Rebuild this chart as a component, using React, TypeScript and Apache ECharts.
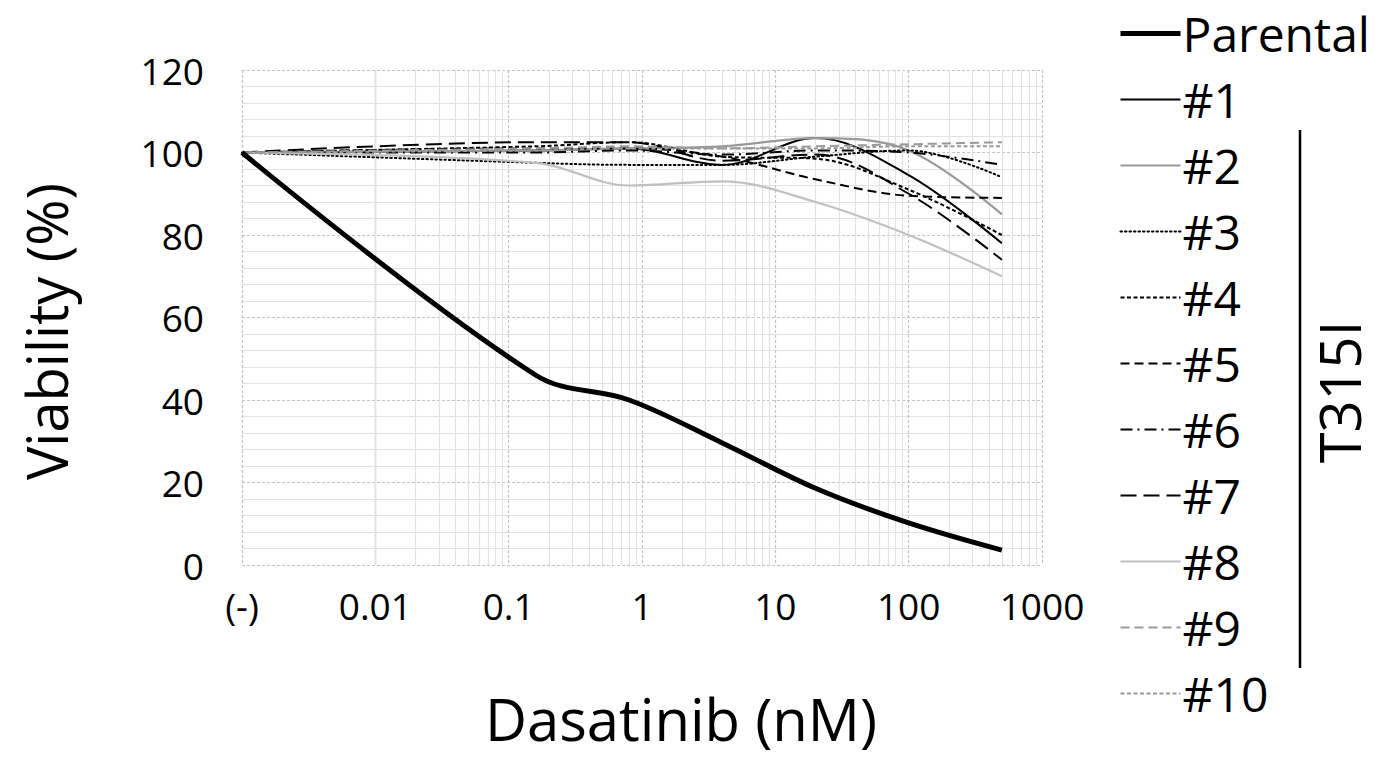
import React, { useEffect, useRef } from "react";
import * as echarts from "echarts";

// Dasatinib concentrations (nM); the untreated control "(-)" is drawn at 0.001
const X_VALUES = [0.001, 0.16, 0.8, 4, 20, 100, 500];
const X_TICK_LABELS: Record<string, string> = {
  "0.001": "(-)",
  "0.01": "0.01",
  "0.1": "0.1",
  "1": "1",
  "10": "10",
  "100": "100",
  "1000": "1000",
};

const PARENTAL = [100, 46, 40, 29.6, 18.6, 10.2, 3.6];
const CLONE_1 = [100, 100.5, 101, 97, 103.5, 94.5, 78];
const CLONE_2 = [100, 100.5, 101, 101.5, 103.5, 100.5, 85];
const CLONE_3 = [100, 97.5, 97, 97, 99, 100.5, 94];
const CLONE_4 = [100, 101.5, 102.5, 99, 98.5, 91, 80];
const CLONE_5 = [100, 101, 101, 99, 93.5, 89.5, 89];
const CLONE_6 = [100, 100, 100.5, 99.5, 100.5, 100, 97];
const CLONE_7 = [100, 102.5, 102.5, 98, 99.5, 90, 74];
const CLONE_8 = [100, 97.5, 92, 93, 88, 80, 70];
const CLONE_9 = [100, 101, 101.5, 101, 101.5, 102, 102.5];
const CLONE_10 = [100, 100.5, 101, 101, 101, 101.5, 101.5];

const SERIES_NAMES = ["Parental", "#1", "#2", "#3", "#4", "#5", "#6", "#7", "#8", "#9", "#10"];
const SERIES_VALUES = [
  PARENTAL, CLONE_1, CLONE_2, CLONE_3, CLONE_4, CLONE_5,
  CLONE_6, CLONE_7, CLONE_8, CLONE_9, CLONE_10,
];

const FONT = "'Open Sans', 'Noto Sans', sans-serif";

const STYLES: { color: string; width: number; type: any; cap?: string }[] = [
  { color: "#000000", width: 5, type: "solid" },
  { color: "#000000", width: 2, type: "solid" },
  { color: "#999999", width: 2.2, type: "solid" },
  { color: "#000000", width: 2, type: [1.5, 3], cap: "round" },
  { color: "#000000", width: 2, type: [4, 2.5] },
  { color: "#000000", width: 2, type: [9, 5] },
  { color: "#000000", width: 2, type: [12, 5, 2, 5] },
  { color: "#000000", width: 2, type: [16, 7] },
  { color: "#c0c0c0", width: 2.2, type: "solid" },
  { color: "#999999", width: 2, type: [9, 5] },
  { color: "#999999", width: 2, type: [4, 2.5] },
];

function minorLogLines(): number[] {
  const out: number[] = [];
  for (let e = -3; e <= 2; e++) {
    for (let k = 2; k <= 9; k++) out.push(+(k * Math.pow(10, e)).toPrecision(3));
  }
  return out;
}

export default function App() {
  const ref = useRef<HTMLDivElement>(null);

  useEffect(() => {
    if (!ref.current) return;
    const chart = echarts.init(ref.current, undefined, { renderer: "svg" });

    const lineSeries = SERIES_NAMES.map((name, i) => ({
      name,
      type: "line",
      data: X_VALUES.map((x, j) => [x, SERIES_VALUES[i][j]]),
      smooth: 0.35,
      showSymbol: false,
      symbol: "none",
      z: i === 0 ? 4 : 3,
      lineStyle: {
        color: STYLES[i].color,
        width: STYLES[i].width,
        type: STYLES[i].type,
        cap: STYLES[i].cap || "butt",
      },
      itemStyle: { color: STYLES[i].color },
    }));

    const gridSeries = {
      name: "_minorgrid",
      type: "line",
      data: [],
      silent: true,
      z: 1,
      markLine: {
        silent: true,
        z: 1,
        symbol: ["none", "none"],
        label: { show: false },
        emphasis: { disabled: true },
        lineStyle: { color: "#e3e3e3", width: 1.2, type: "solid" },
        data: minorLogLines().map((v) => ({ xAxis: v })),
      },
    };

    chart.setOption({
      animation: false,
      backgroundColor: "#ffffff",
      textStyle: { fontFamily: FONT },
      grid: { left: 242, top: 70, width: 800, height: 495, containLabel: false },
      legend: {
        orient: "vertical",
        left: 1113,
        top: 4,
        itemWidth: 60,
        itemHeight: 14,
        itemGap: 17,
        data: SERIES_NAMES,
        selectedMode: false,
        itemStyle: { opacity: 0, borderWidth: 0 },
        lineStyle: { width: "inherit" },
        textStyle: { fontFamily: FONT, fontSize: 48, color: "#000", lineHeight: 49, padding: [0, 0, 0, -3] },
      },
      xAxis: {
        type: "log",
        logBase: 10,
        min: 0.001,
        max: 1000,
        name: "Dasatinib (nM)",
        nameLocation: "middle",
        nameGap: 124,
        nameTextStyle: { fontFamily: FONT, fontSize: 58, color: "#000", padding: [0, 0, 0, 78] },
        axisLine: { show: false },
        axisTick: { show: false },
        axisLabel: {
          fontFamily: FONT,
          fontSize: 37,
          color: "#000",
          margin: 22,
          formatter: (v: number) => {
            const key = String(+Number(v).toPrecision(3));
            return X_TICK_LABELS[key] ?? key;
          },
        },
        splitLine: { show: true, lineStyle: { color: "#c4c4c4", width: 1.2, type: [3, 2] } },
      },
      yAxis: {
        type: "value",
        min: 0,
        max: 120,
        interval: 20,
        name: "Viability (%)",
        nameLocation: "middle",
        nameGap: 168,
        nameTextStyle: { fontFamily: FONT, fontSize: 56, color: "#000", padding: [0, 28, 0, 0] },
        axisLine: { show: false },
        axisTick: { show: false },
        axisLabel: { fontFamily: FONT, fontSize: 37, color: "#000", margin: 38 },
        splitLine: { show: true, lineStyle: { color: "#c4c4c4", width: 1.2, type: [3, 2] } },
        minorTick: { show: false, splitNumber: 5 },
        minorSplitLine: { show: true, lineStyle: { color: "#e3e3e3", width: 1.2 } },
      },
      graphic: [
        {
          type: "line",
          shape: { x1: 1300, y1: 130, x2: 1300, y2: 668 },
          style: { stroke: "#000", lineWidth: 2.5 },
        },
        {
          type: "text",
          x: 1339,
          y: 392,
          rotation: Math.PI / 2,
          style: {
            text: "T315I",
            fontFamily: FONT,
            fontSize: 56,
            fill: "#000",
            textAlign: "center",
            textVerticalAlign: "middle",
          },
        },
      ],
      series: [gridSeries, ...lineSeries],
    });

    return () => chart.dispose();
  }, []);

  return (
    <div
      ref={ref}
      style={{ position: "fixed", left: 0, top: 0, width: 1380, height: 763, background: "#fff" }}
    />
  );
}
